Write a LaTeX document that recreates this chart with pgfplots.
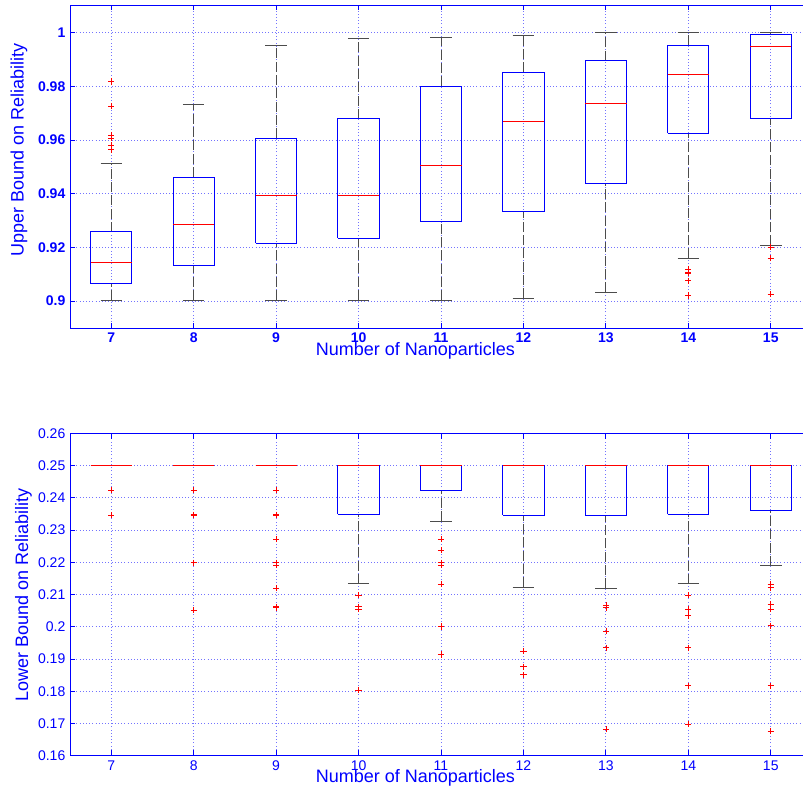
\documentclass[border=0pt]{standalone}
\usepackage{fontspec}
\setmainfont{Liberation Sans}
\usepackage{pgfplots}
\pgfplotsset{compat=1.18}
\definecolor{mblue}{rgb}{0,0,1}
\pgfplotsset{
  whisk/.style={black!70, dash pattern=on 7.5pt off 2.5pt, line width=0.6pt, no marks, forget plot},
  cap/.style={black!70, solid, line width=0.75pt, no marks, forget plot},
  boxs/.style={mblue, solid, line width=0.75pt, no marks, forget plot},
  med/.style={red, solid, line width=0.75pt, no marks, forget plot},
  outl/.style={red, only marks, mark=+, mark size=2.3pt, mark options={solid, red, line width=0.55pt}, forget plot},
  myaxis/.style={
    scale only axis, width=556.5pt,
    xmin=6.5, xmax=15.5, xtick={7,8,9,10,11,12,13,14,15},
    axis line style={mblue, line width=0.6pt},
    tick style={mblue, line width=0.6pt},
    tick align=inside, major tick length=4pt,
    grid=major, major grid style={mblue!55, dotted, line width=0.6pt},
    /pgf/number format/assume math mode=true,
    yticklabel style={/pgf/number format/fixed, /pgf/number format/precision=2},
    xlabel={Number of Nanoparticles},
    xlabel style={at={(axis description cs:0.4656,-0.084)}, anchor=base, mblue, font=\fontsize{13.5}{15}\selectfont},
    ylabel style={mblue, font=\fontsize{13.5}{15}\selectfont, anchor=center},
  }
}
% #1 position, #2 lower whisker, #3 lower quartile, #4 median, #5 upper quartile, #6 upper whisker
\newcommand{\bx}[6]{%
  \pgfmathsetmacro\xl{#1-0.25}\pgfmathsetmacro\xr{#1+0.25}%
  \pgfmathsetmacro\cl{#1-0.13}\pgfmathsetmacro\cr{#1+0.13}%
  \addplot[whisk] coordinates {(#1,#2) (#1,#3)};
  \addplot[whisk] coordinates {(#1,#5) (#1,#6)};
  \addplot[cap] coordinates {(\cl,#2) (\cr,#2)};
  \addplot[cap] coordinates {(\cl,#6) (\cr,#6)};
  \addplot[boxs] coordinates {(\xl,#3) (\xr,#3) (\xr,#5) (\xl,#5) (\xl,#3)};
  \addplot[med] coordinates {(\xl,#4) (\xr,#4)};
}
\begin{document}
\begin{tikzpicture}
\begin{axis}[myaxis, at={(52.5pt,-246pt)}, anchor=south west, height=242.25pt,
  ymin=0.8900, ymax=1.0103, ytick={0.9,0.92,0.94,0.96,0.98,1},
  ticklabel style={mblue, font=\fontsize{10.5}{12}\selectfont\bfseries},
  ylabel={Upper Bound on Reliability},
  ylabel style={at={(axis description cs:-0.0687,0.551)}}]
\bx{7}{0.9004}{0.9065}{0.9145}{0.9258}{0.9514}
\bx{8}{0.9004}{0.9134}{0.9287}{0.9462}{0.9733}
\bx{9}{0.9003}{0.9216}{0.9395}{0.9607}{0.9953}
\bx{10}{0.9004}{0.9235}{0.9395}{0.9679}{0.9979}
\bx{11}{0.9003}{0.9295}{0.9504}{0.9800}{0.9981}
\bx{12}{0.9010}{0.9333}{0.9670}{0.9852}{0.9990}
\bx{13}{0.9033}{0.9437}{0.9736}{0.9896}{1.0000}
\bx{14}{0.9159}{0.9625}{0.9844}{0.9953}{1.0000}
\bx{15}{0.9208}{0.9679}{0.9949}{0.9994}{1.0000}
\addplot[outl] coordinates {(7,0.9818) (7,0.9726) (7,0.9619) (7,0.9608) (7,0.9580) (7,0.9564)
  (14,0.9120) (14,0.9109) (14,0.9104) (14,0.9076) (14,0.9021)
  (15,0.9201) (15,0.9161) (15,0.9026)};
\end{axis}
\begin{axis}[myaxis, at={(52.5pt,-566.8pt)}, anchor=south west, height=241.8pt,
  ymin=0.16, ymax=0.26, ytick={0.16,0.17,0.18,0.19,0.2,0.21,0.22,0.23,0.24,0.25,0.26},
  ticklabel style={mblue, font=\fontsize{10.5}{12}\selectfont},
  ylabel={Lower Bound on Reliability},
  ylabel style={at={(axis description cs:-0.0627,0.4985)}}]
\bx{7}{0.25}{0.25}{0.25}{0.25}{0.25}
\bx{8}{0.25}{0.25}{0.25}{0.25}{0.25}
\bx{9}{0.25}{0.25}{0.25}{0.25}{0.25}
\bx{10}{0.2133}{0.2349}{0.25}{0.25}{0.25}
\bx{11}{0.2328}{0.2424}{0.25}{0.25}{0.25}
\bx{12}{0.2122}{0.2346}{0.25}{0.25}{0.25}
\bx{13}{0.2119}{0.2346}{0.25}{0.25}{0.25}
\bx{14}{0.2133}{0.2349}{0.25}{0.25}{0.25}
\bx{15}{0.2189}{0.2361}{0.25}{0.25}{0.25}
\addplot[outl] coordinates {(7,0.2424) (7,0.2346)
  (8,0.2424) (8,0.2348) (8,0.2346) (8,0.2199) (8,0.2052)
  (9,0.2424) (9,0.2348) (9,0.2346) (9,0.2272) (9,0.2199) (9,0.2191) (9,0.2119) (9,0.2062) (9,0.2060)
  (10,0.2098) (10,0.2062) (10,0.2054) (10,0.1804)
  (11,0.2272) (11,0.2237) (11,0.2199) (11,0.2191) (11,0.2133) (11,0.2001) (11,0.1914)
  (12,0.1924) (12,0.1876) (12,0.1851)
  (13,0.2067) (13,0.2060) (13,0.1987) (13,0.1935) (13,0.1682)
  (14,0.2098) (14,0.2054) (14,0.2035) (14,0.1935) (14,0.1817) (14,0.1698)
  (15,0.2133) (15,0.2121) (15,0.2069) (15,0.2054) (15,0.2003) (15,0.1817) (15,0.1676)};
\end{axis}
\pgfresetboundingbox
\path[use as bounding box] (0pt,0pt) rectangle (602.25pt,-594pt);
\end{tikzpicture}
\end{document}
